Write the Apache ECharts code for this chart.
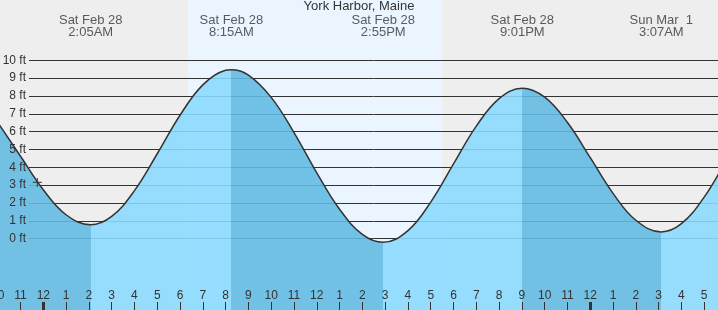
<!DOCTYPE html>
<html>
<head>
<meta charset="utf-8">
<script src="https://cdn.jsdelivr.net/npm/echarts@6/dist/echarts.min.js"></script>
<style>
html,body{margin:0;padding:0;background:#eeeeee;}
#chart{width:718px;height:310px;}
</style>
</head>
<body>
<div id="chart"></div>
<script>
// ---- Data (hours since Sat Feb 28 00:00, heights in ft) ----
const hours   = [-2, -1, 0, 1, 2.083, 3, 4, 5, 6, 7, 8, 8.25, 9, 10, 11, 12, 13, 14, 14.917, 16, 17, 18, 19, 20, 21.017, 22, 23, 24, 25, 26, 27.117, 28, 29, 30];
const heights = [6.52, 4.62, 2.74, 1.34, 0.78, 1.25, 2.69, 4.76, 6.92, 8.62, 9.44, 9.47, 9.17, 7.92, 5.95, 3.69, 1.65, 0.24, -0.20, 0.45, 2.05, 4.19, 6.31, 7.85, 8.43, 7.93, 6.51, 4.54, 2.54, 1.03, 0.38, 0.84, 2.33, 4.50];

const eventHours = [2.083, 8.25, 14.917, 21.017, 27.117];
const eventDates = ['Sat Feb 28', 'Sat Feb 28', 'Sat Feb 28', 'Sat Feb 28', 'Sun Mar  1'];
const eventTimes = ['2:05AM', '8:15AM', '2:55PM', '9:01PM', '3:07AM'];

const sunrise = 6.36, sunset = 17.49;
const nowHour = -0.26, nowHeight = 3.15;

const yTicks = [0, 1, 2, 3, 4, 5, 6, 7, 8, 9, 10];
const midnights = [0, 24];
const title = 'York Harbor, Maine';

// ---- Styles ----
const FONT = '"Liberation Sans", Arial, sans-serif';
const TXT = '#333333';
const FALL = '#61bae3';
const RISE = '#8adafe';
const DAY = '#ebf5ff';

const X_MIN = -2, X_MAX = 30;
const Y_MIN = -4.0, Y_MAX = 13.38;
const HEADER_Y = 11.92;

const pieces = [];
let prev = null;
eventHours.forEach((h, i) => {
  const p = { lt: h, color: i % 2 === 0 ? FALL : RISE };
  if (prev !== null) p.gte = prev;
  pieces.push(p);
  prev = h;
});
pieces.push({ gte: prev, color: eventHours.length % 2 === 0 ? FALL : RISE });

const chart = echarts.init(document.getElementById('chart'), null, { renderer: 'canvas' });
chart.setOption({
  animation: false,
  backgroundColor: '#eeeeee',
  textStyle: { fontFamily: FONT },
  title: {
    text: title, left: 'center', top: 0, padding: [0, 0, 0, 0], z: 10,
    textStyle: { fontSize: 13, fontWeight: 'normal', color: TXT, fontFamily: FONT }
  },
  grid: [
    { left: -2.28, right: -9, top: 0, bottom: 0, containLabel: false, outerBoundsMode: 'none' },
    { left: 29, right: 0, top: 60.3, bottom: 71.3, containLabel: false, outerBoundsMode: 'none' }
  ],
  xAxis: [
    {
      type: 'value', gridIndex: 0, min: X_MIN, max: X_MAX, interval: 1, position: 'bottom', z: 8,
      axisLine: { show: false, onZero: false },
      splitLine: { show: false },
      axisTick: { show: true, inside: true, length: 8, lineStyle: { color: TXT, width: 1 } },
      axisLabel: {
        show: true, inside: true, margin: 8, fontSize: 12, color: TXT, fontFamily: FONT,
        showMinLabel: true, showMaxLabel: true, hideOverlap: false,
        formatter: v => { const hr = ((Math.round(v) % 24) + 24) % 24; const h12 = hr % 12; return String(h12 === 0 ? 12 : h12); }
      }
    },
    {
      type: 'value', gridIndex: 0, min: X_MIN, max: X_MAX, position: 'bottom', z: 8,
      axisLine: { show: false, onZero: false }, splitLine: { show: false }, axisLabel: { show: false },
      axisTick: { show: true, inside: true, length: 8, customValues: midnights, lineStyle: { color: TXT, width: 3 } }
    },
    { type: 'value', gridIndex: 1, min: 0, max: 1, show: false, axisLine: { show: false, onZero: false }, axisTick: { show: false }, axisLabel: { show: false }, splitLine: { show: false } }
  ],
  yAxis: [
    { type: 'value', gridIndex: 0, min: Y_MIN, max: Y_MAX, show: false, axisLine: { show: false, onZero: false }, axisTick: { show: false }, splitLine: { show: false } },
    {
      type: 'value', gridIndex: 1, position: 'left', min: yTicks[0], max: yTicks[yTicks.length - 1], interval: 1, z: 2,
      axisLine: { show: false, onZero: false }, axisTick: { show: false }, axisLabel: { show: false },
      splitLine: { show: true, lineStyle: { color: TXT, width: 1 } }
    },
    {
      type: 'value', gridIndex: 1, position: 'left', offset: 0, min: yTicks[0], max: yTicks[yTicks.length - 1], interval: 1, z: 8,
      axisLine: { show: false, onZero: false }, axisTick: { show: false }, splitLine: { show: false },
      axisLabel: { show: true, margin: 3, fontSize: 12, color: TXT, fontFamily: FONT, formatter: '{value} ft' }
    }
  ],
  visualMap: {
    show: false, type: 'piecewise', dimension: 0, seriesIndex: 1, pieces: pieces
  },
  series: [
    {
      type: 'line', xAxisIndex: 0, yAxisIndex: 0, data: [], z: 1, silent: true,
      markArea: {
        silent: true, z: 1, itemStyle: { color: DAY },
        data: [[{ xAxis: sunrise }, { xAxis: sunset }]]
      }
    },
    {
      type: 'line', xAxisIndex: 0, yAxisIndex: 0, z: 3,
      data: hours.map((h, i) => [h, heights[i]]),
      smooth: 0.4, showSymbol: false, symbol: 'none',
      lineStyle: { color: '#333333', width: 1.5 },
      areaStyle: { origin: 'start', opacity: 0.88 }
    },
    {
      type: 'scatter', xAxisIndex: 0, yAxisIndex: 0, z: 6,
      data: [[nowHour, nowHeight]],
      symbol: 'path://M0,5L10,5M5,0L5,10', symbolSize: 9,
      itemStyle: { color: 'none', borderColor: '#333333', borderWidth: 1.2 }
    },
    {
      type: 'scatter', xAxisIndex: 0, yAxisIndex: 0, z: 6,
      data: eventHours.map(h => [h, HEADER_Y]), symbolSize: 0,
      label: {
        show: true, position: 'inside', fontSize: 13, lineHeight: 12, color: TXT, fontFamily: FONT, align: 'center',
        formatter: p => eventDates[p.dataIndex] + '\n' + eventTimes[p.dataIndex]
      }
    }
  ]
});
</script>
</body>
</html>
